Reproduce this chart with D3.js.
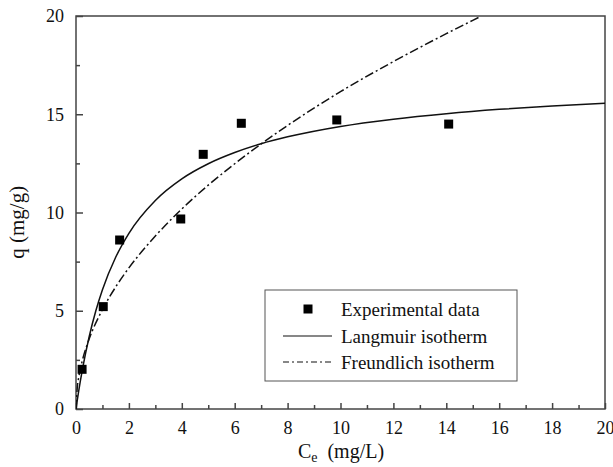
<!DOCTYPE html>
<html>
<head>
<meta charset="utf-8">
<script src="https://cdn.jsdelivr.net/npm/d3@7"></script>
<style>
  body { margin: 0; background: #fff; }
  svg text { font-family: "Liberation Serif", "Times New Roman", "DejaVu Serif", serif; fill: #111; }
</style>
</head>
<body>
<div id="chart"></div>
<script>
// experimental points (Ce mg/L, q mg/g)
var expC = [0.23, 1.03, 1.65, 3.96, 4.81, 6.25, 9.86, 14.09]
var expQ = [2.02, 5.21, 8.6, 9.67, 12.96, 14.54, 14.71, 14.5]

// fitted curves
var langC = [0, 0.05, 0.1, 0.25, 0.5, 0.75, 1, 1.5, 2, 3, 4, 5, 6, 7, 8, 10, 12, 14, 16, 18, 20]
var langQ = [0, 0.46, 0.9, 2.07, 3.69, 5.0, 6.07, 7.72, 8.94, 10.61, 11.71, 12.48, 13.05, 13.5, 13.85, 14.38, 14.75, 15.03, 15.25, 15.42, 15.56]

var freuC = [0, 0.05, 0.1, 0.25, 0.5, 1, 1.5, 2, 3, 4, 5, 6, 7, 8, 10, 12, 14, 15, 15.3]
var freuQ = [0, 1.12, 1.59, 2.52, 3.57, 5.06, 6.21, 7.18, 8.8, 10.18, 11.39, 12.48, 13.49, 14.43, 16.15, 17.68, 19.1, 19.78, 19.98]

var xTicks = [0, 2, 4, 6, 8, 10, 12, 14, 16, 18, 20]
var yTicks = [0, 5, 10, 15, 20]

var legendLabels = ["Experimental data", "Langmuir isotherm", "Freundlich isotherm"]

var width = 613, height = 467
// plot box edges (window.top is reserved, so prefix them)
var pLeft = 76, pRight = 605, pTop = 16, pBottom = 409
var serif = "'Liberation Serif', 'Times New Roman', serif"

var svg = d3.select("#chart").append("svg")
    .attr("width", width)
    .attr("height", height)

var x = d3.scaleLinear().domain([0, 20]).range([pLeft, pRight])
var y = d3.scaleLinear().domain([0, 20]).range([pBottom, pTop])

var axisColor = "#444"

// frame
svg.append("rect")
    .attr("x", pLeft).attr("y", pTop)
    .attr("width", pRight - pLeft).attr("height", pBottom - pTop)
    .attr("fill", "none")
    .attr("stroke", axisColor)
    .attr("stroke-width", 1.5)

// x axis - minor ticks then major with labels
svg.append("g")
    .attr("transform", "translate(0," + pBottom + ")")
    .call(d3.axisTop(x).tickValues(d3.range(1, 20, 2)).tickSize(4).tickFormat(""))
    .call(g => g.select(".domain").remove())
    .selectAll("line").attr("stroke", axisColor).attr("stroke-width", 1.5)

var xg = svg.append("g")
    .attr("transform", "translate(0," + pBottom + ")")
    .call(d3.axisTop(x).tickValues(xTicks).tickSize(6).tickFormat(d3.format("d")))
xg.attr("font-family", serif)
xg.select(".domain").remove()
xg.selectAll("line").attr("stroke", axisColor).attr("stroke-width", 1.5)
xg.selectAll("text")
    .attr("y", 12)
    .attr("dy", "0.71em")
    .style("font-size", "18px")

// y axis
svg.append("g")
    .attr("transform", "translate(" + pLeft + ",0)")
    .call(d3.axisRight(y).tickValues([2.5, 7.5, 12.5, 17.5]).tickSize(4).tickFormat(""))
    .call(g => g.select(".domain").remove())
    .selectAll("line").attr("stroke", axisColor).attr("stroke-width", 1.5)

var yg = svg.append("g")
    .attr("transform", "translate(" + pLeft + ",0)")
    .call(d3.axisRight(y).tickValues(yTicks).tickSize(7).tickFormat(d3.format("d")))
yg.attr("font-family", serif)
yg.select(".domain").remove()
yg.selectAll("line").attr("stroke", axisColor).attr("stroke-width", 1.5)
yg.selectAll("text")
    .attr("x", -12)
    .attr("text-anchor", "end")
    .style("font-size", "18px")

// axis titles
var xt = svg.append("text")
    .attr("x", 341).attr("y", 458)
    .attr("text-anchor", "middle")
    .style("font-size", "20px")
xt.append("tspan").text("C")
xt.append("tspan").text("e").attr("dy", 4).style("font-size", "14px")
xt.append("tspan").text("\u00a0 (mg/L)").attr("dy", -4)

svg.append("text")
    .attr("transform", "translate(24," + y(9.5) + ") rotate(-90)")
    .attr("text-anchor", "middle")
    .style("font-size", "21px")
    .text("q (mg/g)")

// curves
svg.append("clipPath").attr("id", "plot-clip")
    .append("rect")
    .attr("x", pLeft).attr("y", pTop)
    .attr("width", pRight - pLeft).attr("height", pBottom - pTop)

var line = d3.line()
    .x(d => x(d[0]))
    .y(d => y(d[1]))
    .curve(d3.curveMonotoneX)

svg.append("path")
    .datum(d3.zip(langC, langQ))
    .attr("d", line)
    .attr("fill", "none")
    .attr("stroke", "#111")
    .attr("stroke-width", 1.5)
    .attr("clip-path", "url(#plot-clip)")

svg.append("path")
    .datum(d3.zip(freuC, freuQ))
    .attr("d", line)
    .attr("fill", "none")
    .attr("stroke", "#111")
    .attr("stroke-width", 1.5)
    .attr("stroke-dasharray", "9,3,2,3")
    .attr("clip-path", "url(#plot-clip)")

// experimental points
var sq = 9
svg.append("g")
    .selectAll("rect")
    .data(d3.zip(expC, expQ))
    .enter()
    .append("rect")
    .attr("x", d => x(d[0]) - sq / 2)
    .attr("y", d => y(d[1]) - sq / 2)
    .attr("width", sq)
    .attr("height", sq)
    .attr("fill", "#000")

// legend
var lg = svg.append("g")
lg.append("rect")
    .attr("x", 265).attr("y", 290)
    .attr("width", 252).attr("height", 91)
    .attr("fill", "#fff")
    .attr("stroke", "#555")
    .attr("stroke-width", 1)

var rowY = [309, 336, 362]
lg.append("rect")
    .attr("x", 308 - sq / 2).attr("y", rowY[0] - sq / 2)
    .attr("width", sq).attr("height", sq)
    .attr("fill", "#000")
lg.append("line")
    .attr("x1", 283).attr("x2", 332)
    .attr("y1", rowY[1]).attr("y2", rowY[1])
    .attr("stroke", "#111").attr("stroke-width", 1.2)
lg.append("line")
    .attr("x1", 283).attr("x2", 332)
    .attr("y1", rowY[2]).attr("y2", rowY[2])
    .attr("stroke", "#111").attr("stroke-width", 1.2)
    .attr("stroke-dasharray", "6,3,2,3")

lg.selectAll("text.lab")
    .data(legendLabels)
    .enter()
    .append("text")
    .attr("class", "lab")
    .attr("x", 341)
    .attr("y", (d, i) => rowY[i])
    .attr("dy", "0.35em")
    .style("font-size", "19px")
    .text(d => d)
</script>
</body>
</html>
